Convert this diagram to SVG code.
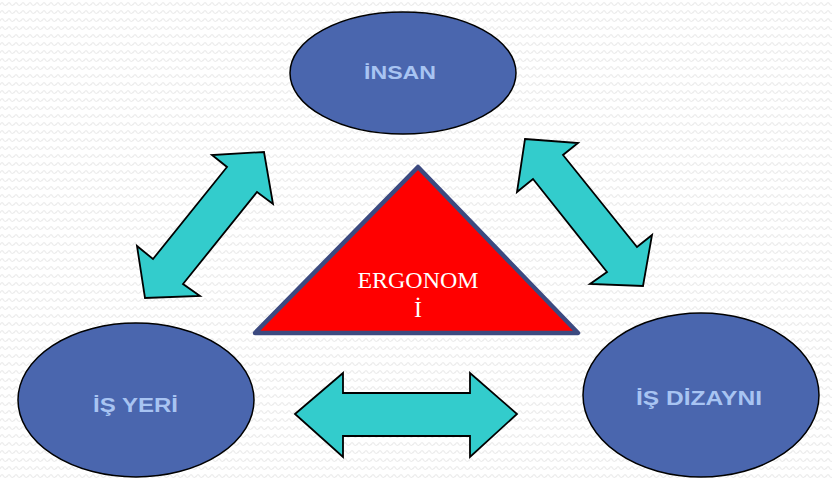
<svg xmlns="http://www.w3.org/2000/svg" width="832" height="481" viewBox="0 0 832 481">
<defs>
<pattern id="bg" width="7" height="8" patternUnits="userSpaceOnUse">
<rect width="7" height="8" fill="#ffffff"/>
<path d="M0 5 Q1.75 1 3.5 4 T7 4" fill="none" stroke="#ececec" stroke-width="1.2"/>
</pattern>
<style>
.node ellipse{fill:#4a66ae;stroke:#000;stroke-width:1.5}
.lbl{font-family:"Liberation Sans",Arial,sans-serif;font-weight:bold;fill:#a8c4f2;text-anchor:middle}
.arrow{fill:#33cccc;stroke:#000;stroke-width:1.8;stroke-linejoin:miter}
.tri{fill:#ff0000;stroke:#3c4a80;stroke-width:4.5;stroke-linejoin:round}
.tlbl{font-family:"Liberation Serif","Times New Roman",serif;fill:#ffffff;font-size:24px;text-anchor:middle}
</style>
</defs>
<rect width="832" height="481" fill="url(#bg)"/>
<g id="connectors">
<polygon class="arrow" points="264,152 273,204 257,192 183,284 200,296 145,298 137,246 153,259 227,167 212,155"/>
<polygon class="arrow" points="525,139 578,143 563,155 637,247 652,235 643,286 590,284 607,272 533,179 517,192"/>
<polygon class="arrow" points="295,414 343,373 343,393 470,393 470,373 517,414 470,457 470,436 343,436 343,457"/>
</g>
<g id="ergonomi">
<polygon class="tri" points="418,167 578,333 255,333"/>
<text class="tlbl" x="418" y="288" textLength="121" lengthAdjust="spacingAndGlyphs">ERGONOM</text>
<text class="tlbl" x="418" y="317">İ</text>
</g>
<g id="insan" class="node">
<ellipse cx="403" cy="73" rx="113" ry="61"/>
<text class="lbl" x="400" y="79" font-size="18" textLength="72" lengthAdjust="spacingAndGlyphs">İNSAN</text>
</g>
<g id="is-yeri" class="node">
<ellipse cx="136" cy="400" rx="118" ry="77"/>
<text class="lbl" x="135.5" y="412" font-size="20" textLength="85" lengthAdjust="spacingAndGlyphs">İŞ YERİ</text>
</g>
<g id="is-dizayni" class="node">
<ellipse cx="701" cy="395" rx="118" ry="82"/>
<text class="lbl" x="699" y="405" font-size="21" textLength="126" lengthAdjust="spacingAndGlyphs">İŞ DİZAYNI</text>
</g>
</svg>
